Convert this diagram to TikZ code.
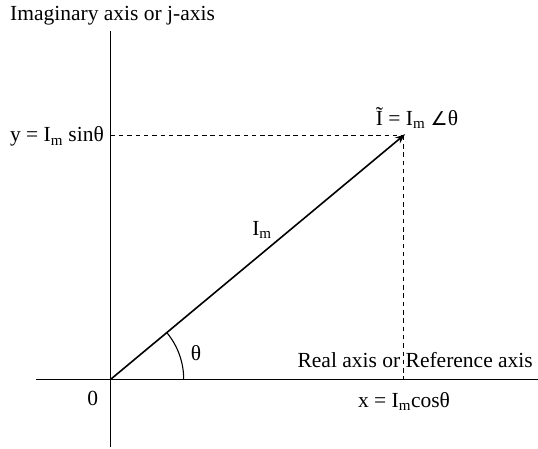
\documentclass[tikz,border=0pt]{standalone}
\usepackage{fontspec}
\setmainfont{Liberation Serif}
\newfontfamily\symfont{DejaVu Sans}
\usetikzlibrary{arrows.meta}
\begin{document}
\begin{tikzpicture}[
    x=1pt, y=1pt,
    lbl/.style={inner sep=0pt, font=\fontsize{21.5}{25}\selectfont},
    axis/.style={line width=1.1pt},
    proj/.style={line width=0.9pt, dash pattern=on 4.5pt off 3.8pt},
    phasor/.style={line width=1.6pt, -{Stealth[length=10pt,width=7.5pt]}}
  ]
    \useasboundingbox (-110.7,-69.7) rectangle (427.3,379.3);
    % axes
    \coordinate (O) at (0,0);
    \coordinate (ybot) at (0,-67.7);
    \coordinate (ytop) at (0,348.3);
    \coordinate (xleft) at (-74.7,0);
    \coordinate (xright) at (427.3,0);
    \draw[axis] (ybot) -- (ytop);
    \draw[axis] (xleft) -- (xright);
    % phasor and its projections
    \coordinate (P) at (292.5,243.5);
    \coordinate (Py) at (O |- P);
    \coordinate (Px) at (P |- O);
    \draw[proj] (Py) -- (P);
    \draw[proj] (P) -- (Px);
    \draw[phasor] (O) -- ([shift={(39.8:2.5)}]P);
    \draw[line width=1.1pt] ([shift={(0:73)}]O) arc[start angle=0, end angle=39.8, radius=73];
    % labels
    \node[lbl, anchor=west] (imag) at (-100.7,364) {Imaginary axis or j-axis};
    \node[lbl, anchor=east] (ylab) at (-6.7,242.5) {y = I\textsubscript{m} sinθ};
    \node[lbl] (zero) at (-18,-19) {0};
    \node[lbl] (theta) at (85.3,26.6) {θ};
    \node[lbl] (mag) at (151.3,149.3) {I\textsubscript{m}};
    \node[lbl] (phs) at (306.3,261.3) {\~I = I\textsubscript{m} {\symfont\fontsize{19}{22}\selectfont ∠}θ};
    \node[lbl, anchor=east] (real) at (422.3,19.3) {Real axis or Reference axis};
    \node[lbl] (xlab) at (293.3,-22.4) {x = I\textsubscript{m}cosθ};
\end{tikzpicture}
\end{document}
